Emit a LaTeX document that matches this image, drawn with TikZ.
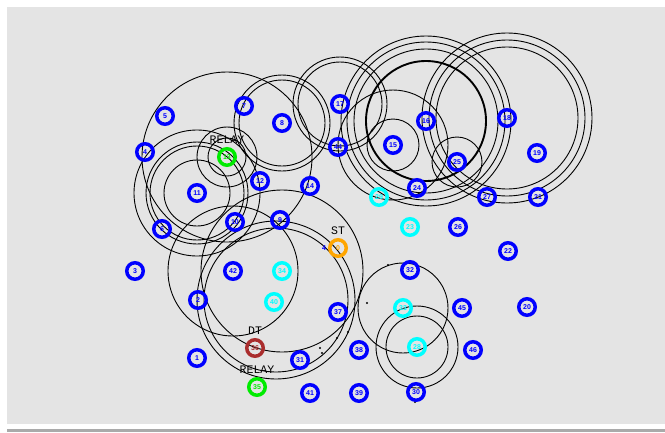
\documentclass[tikz,border=0pt]{standalone}
\usepackage{fontspec}
\setmainfont{Liberation Sans}
\newfontfamily\tagmono{Liberation Mono}
\definecolor{bg}{RGB}{228,228,228}
\definecolor{nblue}{RGB}{0,0,255}
\definecolor{ncyan}{RGB}{0,255,255}
\definecolor{ngreen}{RGB}{0,235,0}
\definecolor{norange}{RGB}{255,165,0}
\definecolor{nbrown}{RGB}{170,45,45}
\definecolor{edgegray}{RGB}{170,170,170}
\begin{document}
\begin{tikzpicture}[x=1pt,y=-1pt,
  rng/.style={draw=black,line width=0.9pt},
  thickrng/.style={draw=black,line width=1.9pt},
  nd/.style={circle,draw=#1,text=#1,line width=3.5pt,minimum size=16.5pt,inner sep=0pt,font=\bfseries\fontsize{7}{7}\selectfont},
  tag/.style={font=\tagmono\fontsize{11.5}{11.5}\selectfont,text=black,inner sep=0pt},
  dotmark/.style={circle,fill=black,inner sep=0pt,minimum size=2.3pt}]
\useasboundingbox (0,0) rectangle (665,432);
\fill[white] (0,0) rectangle (665,432);
\fill[bg] (7,7) rectangle (665,424);
\fill[edgegray] (7,429) rectangle (665,432);

% centres
\coordinate (c0) at (338,248);
\coordinate (c1) at (197,358);
\coordinate (c2) at (198,300);
\coordinate (c3) at (135,271);
\coordinate (c4) at (145,152);
\coordinate (c5) at (165,116);
\coordinate (c6) at (162,229);
\coordinate (c7) at (244,106);
\coordinate (c8) at (282,123);
\coordinate (c9) at (280,220);
\coordinate (c10) at (235,222);
\coordinate (c11) at (197,193);
\coordinate (c12) at (260,181);
\coordinate (c13) at (227,157);
\coordinate (c14) at (310,186);
\coordinate (c15) at (393,145);
\coordinate (c16) at (426,121);
\coordinate (c17) at (340,104);
\coordinate (c18) at (507,118);
\coordinate (c19) at (537,153);
\coordinate (c20) at (527,307);
\coordinate (c21) at (538,197);
\coordinate (c22) at (508,251);
\coordinate (c23) at (410,227);
\coordinate (c24) at (417,188);
\coordinate (c25) at (457,162);
\coordinate (c26) at (458,227);
\coordinate (c27) at (487,197);
\coordinate (c28) at (417,347);
\coordinate (c29) at (379,197);
\coordinate (c30) at (416,392);
\coordinate (c31) at (300,360);
\coordinate (c32) at (410,270);
\coordinate (c33) at (403,308);
\coordinate (c34) at (282,271);
\coordinate (c35) at (257,387);
\coordinate (c36) at (255,348);
\coordinate (c37) at (338,312);
\coordinate (c38) at (359,350);
\coordinate (c39) at (359,393);
\coordinate (c40) at (274,302);
\coordinate (c41) at (310,393);
\coordinate (c42) at (233,271);
\coordinate (c44) at (338,147);
\coordinate (c45) at (462,308);
\coordinate (c46) at (473,350);
\coordinate (ringc) at (276,300);

% ranges
\draw[rng] (c13) circle[radius=85pt];
\draw[rng] (c13) circle[radius=30pt];
\draw[rng] (c13) circle[radius=19pt];
\draw[rng] (c11) circle[radius=33pt];
\draw[rng] (c11) circle[radius=47pt];
\draw[rng] (c11) circle[radius=51pt];
\draw[rng] (c11) circle[radius=63pt];
\draw[rng] (c8) circle[radius=48pt];
\draw[rng] (c8) circle[radius=43pt];
\draw[rng] (c17) circle[radius=47pt];
\draw[rng] (c17) circle[radius=42pt];
\draw[rng] (c15) circle[radius=26pt];
\draw[rng] (c15) circle[radius=55pt];
\draw[thickrng] (c16) circle[radius=60pt];
\draw[rng] (c16) circle[radius=72pt];
\draw[rng] (c16) circle[radius=79pt];
\draw[rng] (c16) circle[radius=85pt];
\draw[rng] (c18) circle[radius=71pt];
\draw[rng] (c18) circle[radius=78pt];
\draw[rng] (c18) circle[radius=85pt];
\draw[rng] (c25) circle[radius=25pt];
\draw[rng] (c42) circle[radius=65pt];
\draw[rng] (c34) circle[radius=81pt];
\draw[rng] (ringc) circle[radius=72pt];
\draw[rng] (ringc) circle[radius=79pt];
\draw[rng] (c33) circle[radius=45pt];
\draw[rng] (c28) circle[radius=41pt];
\draw[rng] (c28) circle[radius=31pt];

% small marks
\node[dotmark] (d1) at (388,265) {};
\node[dotmark] (d2) at (367,303) {};
\node[dotmark] (d3) at (348,332) {};
\node[dotmark] (d4) at (337,338) {};
\node[dotmark] (d5) at (320,348) {};
\node[dotmark] (d6) at (322,353) {};
\node[dotmark] (d7) at (415,402) {};

% nodes
\foreach \n in {1,2,3,4,5,6,7,8,9,10,11,12,14,15,16,17,18,19,20,21,22,24,25,26,27,30,31,32,37,38,39,41,42,44,45,46}
  \node[nd=nblue] (n\n) at (c\n) {\n};
\foreach \n in {23,28,29,33,34,40}
  \node[nd=ncyan] (n\n) at (c\n) {\n};
\node[nd=ngreen] (n13) at (c13) {13};
\node[nd=ngreen] (n35) at (c35) {35};
\node[nd=norange] (n0) at (c0) {0};
\node[nd=nbrown] (n36) at (c36) {36};
\node[text=nblue,font=\bfseries\fontsize{7}{7}\selectfont,inner sep=0pt] (n43) at (324,248) {4};

% labels
\node[tag] (t13) at (227,140) {RELAY};
\node[tag] (t0) at (338,231) {ST};
\node[tag] (t36) at (255,331) {DT};
\node[tag] (t35) at (257,370) {RELAY};
\end{tikzpicture}
\end{document}
